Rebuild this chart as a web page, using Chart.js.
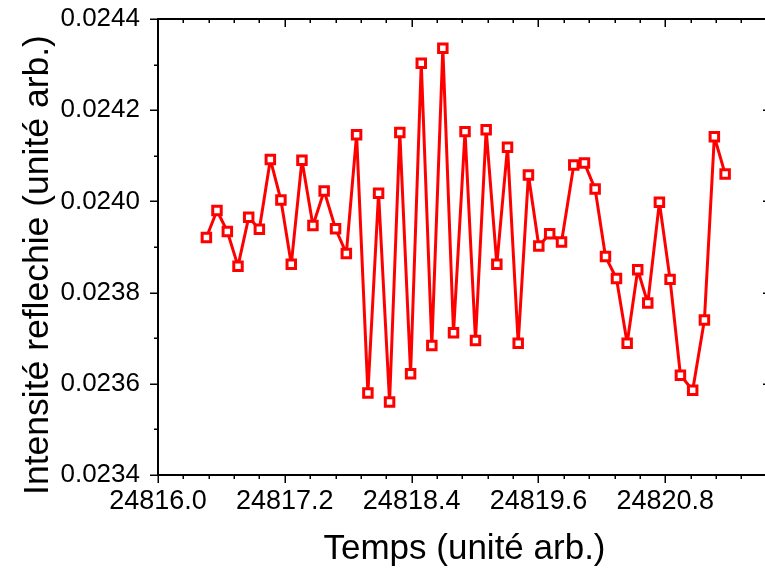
<!DOCTYPE html>
<html>
<head>
<meta charset="utf-8">
<script src="https://cdn.jsdelivr.net/npm/chart.js@4.4.1/dist/chart.umd.min.js"></script>
<style>
  html, body { margin: 0; padding: 0; background: #fff; overflow: hidden; }
  canvas { display: block; }
</style>
</head>
<body>
<canvas id="chartCanvas" width="780" height="572"></canvas>
<script>
// temps (unité arb.)
const timeValues = [
    24816.458, 24816.558, 24816.656, 24816.757, 24816.858, 24816.959, 24817.063, 24817.163,
    24817.261, 24817.362, 24817.466, 24817.572, 24817.680, 24817.782, 24817.879, 24817.986,
    24818.087, 24818.191, 24818.288, 24818.390, 24818.491, 24818.591, 24818.695, 24818.796,
    24818.905, 24819.004, 24819.105, 24819.206, 24819.307, 24819.408, 24819.505, 24819.603,
    24819.706, 24819.818, 24819.934, 24820.035, 24820.136, 24820.234, 24820.338, 24820.439,
    24820.539, 24820.634, 24820.744, 24820.845, 24820.943, 24821.059, 24821.170, 24821.264,
    24821.366
];
// intensité réfléchie
const intensityValues = [
    0.023921, 0.023980, 0.023934, 0.023858, 0.023965, 0.023939, 0.024092, 0.024003,
    0.023862, 0.024090, 0.023947, 0.024023, 0.023940, 0.023886, 0.024146, 0.023580,
    0.024018, 0.023560, 0.024151, 0.023622, 0.024303, 0.023684, 0.024336, 0.023712,
    0.024153, 0.023695, 0.024157, 0.023862, 0.024119, 0.023689, 0.024058, 0.023902,
    0.023929, 0.023911, 0.024080, 0.024084, 0.024027, 0.023879, 0.023831, 0.023689,
    0.023850, 0.023777, 0.023998, 0.023829, 0.023619, 0.023586, 0.023740, 0.024142,
    0.024060
];
const xTickValues = [24816.0, 24817.2, 24818.4, 24819.6, 24820.8];
const yTickValues = [0.0234, 0.0236, 0.0238, 0.0240, 0.0242, 0.0244];

const xMin = 24816.0, xMax = 24821.8, xMinorStep = 0.24;
const yMin = 0.0234, yMax = 0.0244, yMinorStep = 0.0001;
const FONT = '"Liberation Sans", Arial, sans-serif';

// pas de marge auto autour des étiquettes
function noPad(s) {
    s.paddingTop = 0; s.paddingBottom = 0; s.paddingLeft = 0; s.paddingRight = 0;
}

// cadre + graduations (majeures et mineures) façon Origin
const framePlugin = {
    id: "frame",
    afterDraw(chart) {
        const ctx = chart.ctx;
        const a = chart.chartArea;
        const xs = chart.scales.x, ys = chart.scales.y;
        ctx.save();
        ctx.strokeStyle = "#000";
        ctx.lineWidth = 2;
        ctx.strokeRect(a.left, a.top, a.right - a.left, a.bottom - a.top);

        ctx.lineWidth = 1.5;
        ctx.beginPath();
        // axe x
        for (let i = 0; xMin + i * xMinorStep <= xMax + 1e-9; i++) {
            const v = xMin + i * xMinorStep;
            const px = Math.round(xs.getPixelForValue(v)) + 0.25;
            const len = (i % 5 === 0) ? 8 : 4;
            ctx.moveTo(px, a.bottom); ctx.lineTo(px, a.bottom + len);
            ctx.moveTo(px, a.top); ctx.lineTo(px, a.top + len);
        }
        // axe y
        for (let i = 0; yMin + i * yMinorStep <= yMax + 1e-12; i++) {
            const v = yMin + i * yMinorStep;
            const py = Math.round(ys.getPixelForValue(v)) + 0.25;
            const len = (i % 2 === 0) ? 8 : 4;
            ctx.moveTo(a.left, py); ctx.lineTo(a.left - len, py);
            ctx.moveTo(a.right, py); ctx.lineTo(a.right - len, py);
        }
        ctx.stroke();

        // titre de l'axe y
        ctx.fillStyle = "#000";
        ctx.font = "35.5px " + FONT;
        ctx.textAlign = "center";
        ctx.textBaseline = "alphabetic";
        ctx.translate(48, 265);
        ctx.rotate(-Math.PI / 2);
        ctx.fillText("Intensité reflechie (unité arb.)", 0, 0);
        ctx.restore();
    }
};

const points = timeValues.map((t, i) => ({ x: t, y: intensityValues[i] }));

new Chart(document.getElementById("chartCanvas").getContext("2d"), {
    type: "line",
    data: {
        datasets: [{
            label: "Intensité",
            data: points,
            borderColor: "#ff0000",
            borderWidth: 3,
            borderJoinStyle: "round",
            borderCapStyle: "round",
            tension: 0,
            pointStyle: "rect",
            pointRadius: 6,
            pointBorderWidth: 3,
            pointBorderColor: "#ff0000",
            pointBackgroundColor: "#ffffff"
        }]
    },
    options: {
        responsive: false,
        animation: false,
        devicePixelRatio: 1,
        layout: { padding: { left: 0, right: 8, top: 19, bottom: 0 } },
        plugins: { legend: { display: false }, tooltip: { enabled: false } },
        scales: {
            x: {
                type: "linear",
                min: xMin,
                max: xMax,
                afterBuildTicks: s => { s.ticks = xTickValues.map(v => ({ value: v })); },
                afterFit: s => { s.height = 97; noPad(s); },
                grid: { display: false, drawTicks: false },
                border: { display: false },
                ticks: {
                    color: "#000",
                    padding: 10,
                    maxRotation: 0,
                    font: { family: FONT, size: 27 },
                    callback: v => Number(v).toFixed(1)
                },
                title: {
                    display: true,
                    text: "Temps (unité arb.)",
                    color: "#000",
                    font: { family: FONT, size: 35 },
                    padding: { top: 0, bottom: 2 }
                }
            },
            y: {
                min: yMin,
                max: yMax,
                afterBuildTicks: s => { s.ticks = yTickValues.map(v => ({ value: v })); },
                afterFit: s => { s.width = 158; noPad(s); },
                grid: { display: false, drawTicks: false },
                border: { display: false },
                ticks: {
                    color: "#000",
                    padding: 18,
                    font: { family: FONT, size: 26 },
                    callback: v => Number(v).toFixed(4)
                }
            }
        }
    },
    plugins: [framePlugin]
});
</script>
</body>
</html>
